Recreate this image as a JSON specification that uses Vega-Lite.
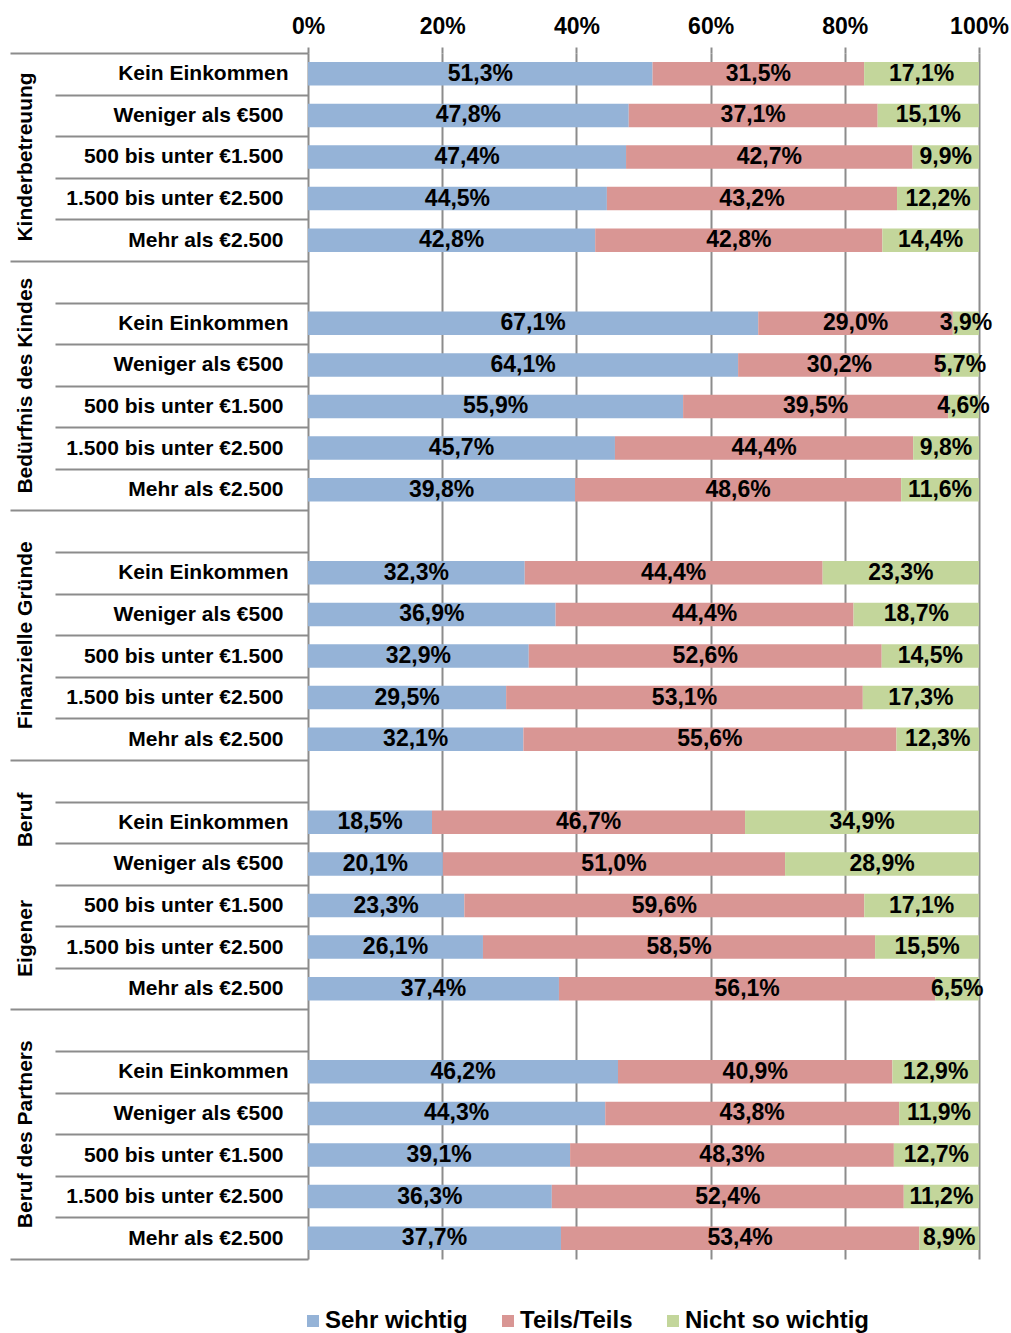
{
  "$schema": "https://vega.github.io/schema/vega-lite/v6.json",
  "width": 671,
  "height": 1206,
  "autosize": {"type": "none"},
  "padding": {"left": 308, "top": 53, "right": 32, "bottom": 74},
  "background": "white",
  "config": {
    "locale": {"number": {"decimal": ",", "thousands": ".", "grouping": [3], "currency": ["", " €"]}},
    "font": "Liberation Sans",
    "view": {"stroke": null},
    "axis": {"labelFont": "Liberation Sans", "labelFontWeight": "bold", "labelColor": "#000000"}
  },
  "data": {"values": [
    {"row": "Kinderbetreuung|Kein Einkommen", "answer": "Sehr wichtig", "rank": 1, "share": 0.513},
    {"row": "Kinderbetreuung|Kein Einkommen", "answer": "Teils/Teils", "rank": 2, "share": 0.315},
    {"row": "Kinderbetreuung|Kein Einkommen", "answer": "Nicht so wichtig", "rank": 3, "share": 0.171},
    {"row": "Kinderbetreuung|Weniger als €500", "answer": "Sehr wichtig", "rank": 1, "share": 0.478},
    {"row": "Kinderbetreuung|Weniger als €500", "answer": "Teils/Teils", "rank": 2, "share": 0.371},
    {"row": "Kinderbetreuung|Weniger als €500", "answer": "Nicht so wichtig", "rank": 3, "share": 0.151},
    {"row": "Kinderbetreuung|500 bis unter €1.500", "answer": "Sehr wichtig", "rank": 1, "share": 0.474},
    {"row": "Kinderbetreuung|500 bis unter €1.500", "answer": "Teils/Teils", "rank": 2, "share": 0.427},
    {"row": "Kinderbetreuung|500 bis unter €1.500", "answer": "Nicht so wichtig", "rank": 3, "share": 0.099},
    {"row": "Kinderbetreuung|1.500 bis unter €2.500", "answer": "Sehr wichtig", "rank": 1, "share": 0.445},
    {"row": "Kinderbetreuung|1.500 bis unter €2.500", "answer": "Teils/Teils", "rank": 2, "share": 0.432},
    {"row": "Kinderbetreuung|1.500 bis unter €2.500", "answer": "Nicht so wichtig", "rank": 3, "share": 0.122},
    {"row": "Kinderbetreuung|Mehr als €2.500", "answer": "Sehr wichtig", "rank": 1, "share": 0.428},
    {"row": "Kinderbetreuung|Mehr als €2.500", "answer": "Teils/Teils", "rank": 2, "share": 0.428},
    {"row": "Kinderbetreuung|Mehr als €2.500", "answer": "Nicht so wichtig", "rank": 3, "share": 0.144},

    {"row": "Bedürfnis des Kindes|Kein Einkommen", "answer": "Sehr wichtig", "rank": 1, "share": 0.671},
    {"row": "Bedürfnis des Kindes|Kein Einkommen", "answer": "Teils/Teils", "rank": 2, "share": 0.290},
    {"row": "Bedürfnis des Kindes|Kein Einkommen", "answer": "Nicht so wichtig", "rank": 3, "share": 0.039},
    {"row": "Bedürfnis des Kindes|Weniger als €500", "answer": "Sehr wichtig", "rank": 1, "share": 0.641},
    {"row": "Bedürfnis des Kindes|Weniger als €500", "answer": "Teils/Teils", "rank": 2, "share": 0.302},
    {"row": "Bedürfnis des Kindes|Weniger als €500", "answer": "Nicht so wichtig", "rank": 3, "share": 0.057},
    {"row": "Bedürfnis des Kindes|500 bis unter €1.500", "answer": "Sehr wichtig", "rank": 1, "share": 0.559},
    {"row": "Bedürfnis des Kindes|500 bis unter €1.500", "answer": "Teils/Teils", "rank": 2, "share": 0.395},
    {"row": "Bedürfnis des Kindes|500 bis unter €1.500", "answer": "Nicht so wichtig", "rank": 3, "share": 0.046},
    {"row": "Bedürfnis des Kindes|1.500 bis unter €2.500", "answer": "Sehr wichtig", "rank": 1, "share": 0.457},
    {"row": "Bedürfnis des Kindes|1.500 bis unter €2.500", "answer": "Teils/Teils", "rank": 2, "share": 0.444},
    {"row": "Bedürfnis des Kindes|1.500 bis unter €2.500", "answer": "Nicht so wichtig", "rank": 3, "share": 0.098},
    {"row": "Bedürfnis des Kindes|Mehr als €2.500", "answer": "Sehr wichtig", "rank": 1, "share": 0.398},
    {"row": "Bedürfnis des Kindes|Mehr als €2.500", "answer": "Teils/Teils", "rank": 2, "share": 0.486},
    {"row": "Bedürfnis des Kindes|Mehr als €2.500", "answer": "Nicht so wichtig", "rank": 3, "share": 0.116},

    {"row": "Finanzielle Gründe|Kein Einkommen", "answer": "Sehr wichtig", "rank": 1, "share": 0.323},
    {"row": "Finanzielle Gründe|Kein Einkommen", "answer": "Teils/Teils", "rank": 2, "share": 0.444},
    {"row": "Finanzielle Gründe|Kein Einkommen", "answer": "Nicht so wichtig", "rank": 3, "share": 0.233},
    {"row": "Finanzielle Gründe|Weniger als €500", "answer": "Sehr wichtig", "rank": 1, "share": 0.369},
    {"row": "Finanzielle Gründe|Weniger als €500", "answer": "Teils/Teils", "rank": 2, "share": 0.444},
    {"row": "Finanzielle Gründe|Weniger als €500", "answer": "Nicht so wichtig", "rank": 3, "share": 0.187},
    {"row": "Finanzielle Gründe|500 bis unter €1.500", "answer": "Sehr wichtig", "rank": 1, "share": 0.329},
    {"row": "Finanzielle Gründe|500 bis unter €1.500", "answer": "Teils/Teils", "rank": 2, "share": 0.526},
    {"row": "Finanzielle Gründe|500 bis unter €1.500", "answer": "Nicht so wichtig", "rank": 3, "share": 0.145},
    {"row": "Finanzielle Gründe|1.500 bis unter €2.500", "answer": "Sehr wichtig", "rank": 1, "share": 0.295},
    {"row": "Finanzielle Gründe|1.500 bis unter €2.500", "answer": "Teils/Teils", "rank": 2, "share": 0.531},
    {"row": "Finanzielle Gründe|1.500 bis unter €2.500", "answer": "Nicht so wichtig", "rank": 3, "share": 0.173},
    {"row": "Finanzielle Gründe|Mehr als €2.500", "answer": "Sehr wichtig", "rank": 1, "share": 0.321},
    {"row": "Finanzielle Gründe|Mehr als €2.500", "answer": "Teils/Teils", "rank": 2, "share": 0.556},
    {"row": "Finanzielle Gründe|Mehr als €2.500", "answer": "Nicht so wichtig", "rank": 3, "share": 0.123},

    {"row": "Eigener Beruf|Kein Einkommen", "answer": "Sehr wichtig", "rank": 1, "share": 0.185},
    {"row": "Eigener Beruf|Kein Einkommen", "answer": "Teils/Teils", "rank": 2, "share": 0.467},
    {"row": "Eigener Beruf|Kein Einkommen", "answer": "Nicht so wichtig", "rank": 3, "share": 0.349},
    {"row": "Eigener Beruf|Weniger als €500", "answer": "Sehr wichtig", "rank": 1, "share": 0.201},
    {"row": "Eigener Beruf|Weniger als €500", "answer": "Teils/Teils", "rank": 2, "share": 0.510},
    {"row": "Eigener Beruf|Weniger als €500", "answer": "Nicht so wichtig", "rank": 3, "share": 0.289},
    {"row": "Eigener Beruf|500 bis unter €1.500", "answer": "Sehr wichtig", "rank": 1, "share": 0.233},
    {"row": "Eigener Beruf|500 bis unter €1.500", "answer": "Teils/Teils", "rank": 2, "share": 0.596},
    {"row": "Eigener Beruf|500 bis unter €1.500", "answer": "Nicht so wichtig", "rank": 3, "share": 0.171},
    {"row": "Eigener Beruf|1.500 bis unter €2.500", "answer": "Sehr wichtig", "rank": 1, "share": 0.261},
    {"row": "Eigener Beruf|1.500 bis unter €2.500", "answer": "Teils/Teils", "rank": 2, "share": 0.585},
    {"row": "Eigener Beruf|1.500 bis unter €2.500", "answer": "Nicht so wichtig", "rank": 3, "share": 0.155},
    {"row": "Eigener Beruf|Mehr als €2.500", "answer": "Sehr wichtig", "rank": 1, "share": 0.374},
    {"row": "Eigener Beruf|Mehr als €2.500", "answer": "Teils/Teils", "rank": 2, "share": 0.561},
    {"row": "Eigener Beruf|Mehr als €2.500", "answer": "Nicht so wichtig", "rank": 3, "share": 0.065},

    {"row": "Beruf des Partners|Kein Einkommen", "answer": "Sehr wichtig", "rank": 1, "share": 0.462},
    {"row": "Beruf des Partners|Kein Einkommen", "answer": "Teils/Teils", "rank": 2, "share": 0.409},
    {"row": "Beruf des Partners|Kein Einkommen", "answer": "Nicht so wichtig", "rank": 3, "share": 0.129},
    {"row": "Beruf des Partners|Weniger als €500", "answer": "Sehr wichtig", "rank": 1, "share": 0.443},
    {"row": "Beruf des Partners|Weniger als €500", "answer": "Teils/Teils", "rank": 2, "share": 0.438},
    {"row": "Beruf des Partners|Weniger als €500", "answer": "Nicht so wichtig", "rank": 3, "share": 0.119},
    {"row": "Beruf des Partners|500 bis unter €1.500", "answer": "Sehr wichtig", "rank": 1, "share": 0.391},
    {"row": "Beruf des Partners|500 bis unter €1.500", "answer": "Teils/Teils", "rank": 2, "share": 0.483},
    {"row": "Beruf des Partners|500 bis unter €1.500", "answer": "Nicht so wichtig", "rank": 3, "share": 0.127},
    {"row": "Beruf des Partners|1.500 bis unter €2.500", "answer": "Sehr wichtig", "rank": 1, "share": 0.363},
    {"row": "Beruf des Partners|1.500 bis unter €2.500", "answer": "Teils/Teils", "rank": 2, "share": 0.524},
    {"row": "Beruf des Partners|1.500 bis unter €2.500", "answer": "Nicht so wichtig", "rank": 3, "share": 0.112},
    {"row": "Beruf des Partners|Mehr als €2.500", "answer": "Sehr wichtig", "rank": 1, "share": 0.377},
    {"row": "Beruf des Partners|Mehr als €2.500", "answer": "Teils/Teils", "rank": 2, "share": 0.534},
    {"row": "Beruf des Partners|Mehr als €2.500", "answer": "Nicht so wichtig", "rank": 3, "share": 0.089}
  ]},
  "layer": [
    {
      "mark": {"type": "bar", "height": {"band": 0.565}},
      "encoding": {
        "y": {
          "field": "row", "type": "nominal",
          "scale": {
            "domain": [
              "Kinderbetreuung|Kein Einkommen", "Kinderbetreuung|Weniger als €500", "Kinderbetreuung|500 bis unter €1.500", "Kinderbetreuung|1.500 bis unter €2.500", "Kinderbetreuung|Mehr als €2.500",
              "Bedürfnis des Kindes|", "Bedürfnis des Kindes|Kein Einkommen", "Bedürfnis des Kindes|Weniger als €500", "Bedürfnis des Kindes|500 bis unter €1.500", "Bedürfnis des Kindes|1.500 bis unter €2.500", "Bedürfnis des Kindes|Mehr als €2.500",
              "Finanzielle Gründe|", "Finanzielle Gründe|Kein Einkommen", "Finanzielle Gründe|Weniger als €500", "Finanzielle Gründe|500 bis unter €1.500", "Finanzielle Gründe|1.500 bis unter €2.500", "Finanzielle Gründe|Mehr als €2.500",
              "Eigener Beruf|", "Eigener Beruf|Kein Einkommen", "Eigener Beruf|Weniger als €500", "Eigener Beruf|500 bis unter €1.500", "Eigener Beruf|1.500 bis unter €2.500", "Eigener Beruf|Mehr als €2.500",
              "Beruf des Partners|", "Beruf des Partners|Kein Einkommen", "Beruf des Partners|Weniger als €500", "Beruf des Partners|500 bis unter €1.500", "Beruf des Partners|1.500 bis unter €2.500", "Beruf des Partners|Mehr als €2.500"
            ],
            "paddingInner": 0, "paddingOuter": 0
          },
          "axis": {
            "orient": "left", "title": null, "domain": false, "grid": false,
            "tickBand": "extent", "tickColor": "#8c8c8c", "tickWidth": 2,
            "tickSize": {"condition": {"test": "datum.extra || indexof(datum.value, 'Mehr als') >= 0", "value": 298}, "value": 253},
            "labelPadding": {"condition": [
              {"test": "datum.extra", "value": -278},
              {"test": "indexof(datum.value, 'Mehr als') >= 0", "value": -273},
              {"test": "indexof(datum.value, 'Kein Einkommen') < 0", "value": -228}
            ], "value": -233},
            "labelExpr": "split(datum.value, '|')[1]",
            "labelFontSize": 21, "labelAlign": "right", "labelBaseline": "middle", "labelLimit": 300, "labelOverlap": false
          }
        },
        "x": {
          "field": "share", "type": "quantitative", "stack": "normalize",
          "scale": {"domain": [0, 1]},
          "axis": {
            "orient": "top", "title": null, "domain": false,
            "values": [0, 0.2, 0.4, 0.6, 0.8, 1], "format": ".0%",
            "grid": true, "gridColor": "#8c8c8c", "gridWidth": 2,
            "tickColor": "#8c8c8c", "tickWidth": 2, "tickSize": 6,
            "labelFontSize": 23, "labelPadding": 9, "labelFlush": false, "labelOverlap": false
          }
        },
        "color": {
          "field": "answer", "type": "nominal",
          "scale": {"domain": ["Sehr wichtig", "Teils/Teils", "Nicht so wichtig"], "range": ["#95B3D7", "#D99694", "#C3D69B"]},
          "legend": {
            "orient": "none", "legendX": -7, "legendY": 1256,
            "direction": "horizontal", "title": null, "padding": 0,
            "symbolType": "square", "symbolSize": 144, "symbolStrokeWidth": 0,
            "labelFont": "Liberation Sans", "labelFontSize": 24, "labelFontWeight": "bold", "labelColor": "#000000",
            "labelLimit": 300, "columnPadding": 28, "labelOffset": 0
          }
        },
        "order": {"field": "rank"}
      }
    },
    {
      "mark": {"type": "text", "font": "Liberation Sans", "fontSize": 23, "fontWeight": "bold", "color": "#000000", "align": "center", "baseline": "middle"},
      "encoding": {
        "y": {
          "field": "row", "type": "nominal",
          "axis": {
            "orient": "left", "title": null, "domain": false, "ticks": false, "grid": false,
            "values": ["Kinderbetreuung|500 bis unter €1.500", "Bedürfnis des Kindes|500 bis unter €1.500", "Finanzielle Gründe|500 bis unter €1.500", "Eigener Beruf|500 bis unter €1.500", "Beruf des Partners|500 bis unter €1.500"],
            "labelExpr": "split(datum.value, '|')[0] == 'Eigener Beruf' ? 'Eigener\u00a0\u00a0\u00a0\u00a0\u00a0\u00a0\u00a0\u00a0\u00a0Beruf' : split(datum.value, '|')[0]",
            "labelAngle": -90, "labelAlign": "center", "labelBaseline": "middle",
            "labelPadding": 283, "labelFontSize": 21, "labelLimit": 400, "labelOverlap": false,
            "labelOffset": {"condition": {"test": "indexof(datum.value, 'Kinderbetreuung') == 0", "value": 0}, "value": -20.8}
          }
        },
        "x": {"field": "share", "type": "quantitative", "stack": "normalize", "bandPosition": 0.5, "axis": null},
        "detail": {"field": "answer"},
        "order": {"field": "rank"},
        "text": {"field": "share", "type": "quantitative", "format": ".1%"}
      }
    }
  ],
  "resolve": {"axis": {"y": "independent", "x": "independent"}}
}
